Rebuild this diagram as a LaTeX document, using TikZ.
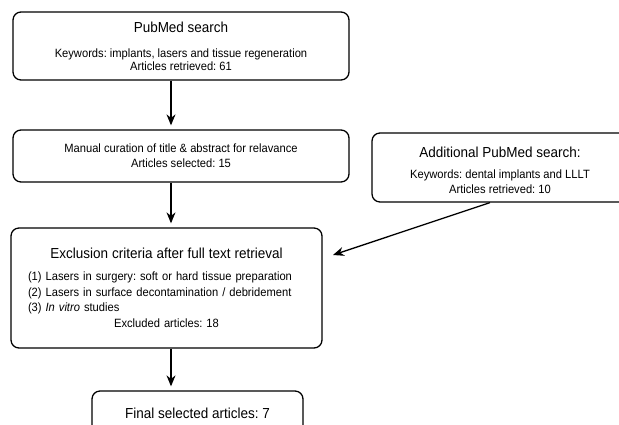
\documentclass[tikz,border=0pt]{standalone}
\usepackage{fontspec}
\setmainfont[FakeStretch=0.93]{Liberation Sans}
\usetikzlibrary{arrows.meta}
\frenchspacing

\begin{document}
\begin{tikzpicture}[x=1pt, y=-1pt,
    stagebox/.style={draw, line width=0.45mm, rounded corners=8pt, align=center,
        inner sep=0pt, font=\fontsize{12}{15}\selectfont},
    flowarrow/.style={line width=0.45mm, -{Stealth[length=11pt,width=9pt]}, shorten >=4pt}]
    \useasboundingbox (0,0) rectangle (619,425);
    % Boxes
    \node[stagebox, minimum width=336, minimum height=68] (search) at (181,46)
        {{\fontsize{14.5}{16}\selectfont PubMed search}\\[10pt]
         Keywords: implants, lasers and tissue regeneration\\[-2pt]
         Articles retrieved: 61};
    \node[stagebox, minimum width=336, minimum height=52] (curation) at (181,156)
        {Manual curation of title \& abstract for relavance\\
         Articles selected: 15};
    \node[stagebox, align=left, text width=277, inner xsep=17, minimum height=120] (exclusion) at (166.5,288)
        {\makebox[\hsize]{\fontsize{14.5}{16}\selectfont Exclusion criteria after full text retrieval}\\[7pt]
         (1) Lasers in surgery: soft or hard tissue preparation\\[0.5pt]
         (2) Lasers in surface decontamination / debridement\\[0.5pt]
         (3) \textit{In vitro} studies\\[0.5pt]
         \makebox[\hsize]{Excluded articles: 18}};
    \node[stagebox, minimum width=211, minimum height=44] (final) at (197.5,413)
        {\fontsize{14.5}{16}\selectfont Final selected articles: 7};
    %
    \node[stagebox, minimum width=256, minimum height=69] (extra) at (500,167.5)
        {{\fontsize{14.5}{16}\selectfont\rule{0pt}{17pt}Additional PubMed search:}\\[6pt]
         Keywords: dental implants and LLLT\\
         Articles retrieved: 10};
    % Arrows
    \coordinate (axis) at (171,0);
    \coordinate (entry) at (333,255);
    \draw[flowarrow] (search.south -| axis) -- (curation.north -| axis);
    \draw[flowarrow] (curation.south -| axis) -- (exclusion.north -| axis);
    \draw[flowarrow] (exclusion.south -| axis) -- (final.north -| axis);
    \draw[flowarrow, shorten >=0pt] ([xshift=-10pt]extra.south) -- (entry);
\end{tikzpicture}
\end{document}
